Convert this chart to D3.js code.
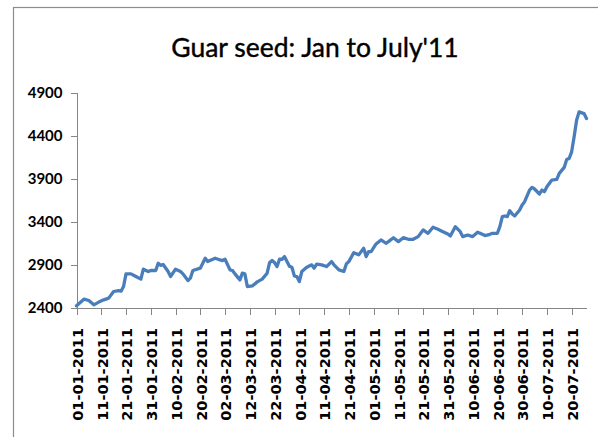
<!DOCTYPE html>
<html lang="en">
	<head>
		<meta charset="utf-8">
		<title>Guar seed: Jan to July'11</title>
		<script type="text/javascript" src="https://d3js.org/d3.v7.min.js"></script>
		<style type="text/css">
			body { margin: 0; background: #fff; }
			.axis path, .axis line { stroke: #868686; shape-rendering: crispEdges; }
		</style>
	</head>
	<body>
		<script type="text/javascript">

			//Width and height
			var w = 598;
			var h = 437;

			//Dates (dd-mm, year 2011) and prices
			var dates = [
				"01-01","04-01","06-01","08-01","10-01","12-01","14-01","16-01","18-01","19-01",
				"20-01","21-01","23-01","25-01","27-01","28-01","30-01","31-01","02-02","03-02",
				"04-02","05-02","07-02","08-02","10-02","12-02","13-02","15-02","16-02","17-02",
				"20-02","21-02","22-02","23-02","26-02","28-02","01-03","02-03","04-03","05-03",
				"06-03","08-03","09-03","10-03","11-03","13-03","15-03","17-03","19-03","20-03",
				"21-03","22-03","23-03","24-03","25-03","26-03","28-03","29-03","30-03","31-03",
				"01-04","02-04","04-04","06-04","07-04","08-04","10-04","12-04","14-04","15-04",
				"17-04","19-04","20-04","21-04","23-04","25-04","27-04","28-04","29-04","30-04",
				"02-05","04-05","06-05","07-05","09-05","11-05","13-05","15-05","17-05","19-05",
				"21-05","23-05","25-05","27-05","29-05","31-05","01-06","03-06","05-06","06-06",
				"08-06","10-06","12-06","13-06","15-06","17-06","18-06","20-06","21-06","22-06",
				"23-06","24-06","25-06","26-06","27-06","29-06","30-06","01-07","03-07","04-07",
				"05-07","07-07","08-07","09-07","10-07","12-07","14-07","15-07","17-07","18-07",
				"19-07","20-07","21-07","22-07","23-07","25-07","26-07"
			];

			var prices = [
				2420,2497,2481,2431,2463,2489,2509,2586,2597,2590,
				2644,2791,2791,2760,2730,2846,2818,2830,2830,2915,
				2890,2900,2818,2760,2846,2818,2791,2713,2741,2830,
				2857,2915,2973,2934,2973,2953,2946,2961,2838,2830,
				2791,2721,2799,2791,2644,2651,2698,2730,2799,2922,
				2946,2922,2876,2961,2961,2992,2880,2868,2768,2760,
				2702,2818,2869,2896,2857,2904,2896,2876,2934,2896,
				2838,2818,2907,2934,3038,3012,3089,2992,3050,3050,
				3139,3186,3147,3166,3212,3166,3212,3193,3193,3224,
				3302,3263,3333,3310,3282,3255,3232,3340,3282,3224,
				3243,3224,3275,3263,3236,3251,3263,3263,3340,3456,
				3464,3456,3526,3487,3464,3534,3592,3630,3766,3797,
				3778,3720,3766,3747,3804,3882,3889,3960,4029,4122,
				4134,4210,4385,4578,4675,4655,4598
			];

			var xTickLabels = [
				"01-01-2011","11-01-2011","21-01-2011","31-01-2011","10-02-2011","20-02-2011",
				"02-03-2011","12-03-2011","22-03-2011","01-04-2011","11-04-2011","21-04-2011",
				"01-05-2011","11-05-2011","21-05-2011","31-05-2011","10-06-2011","20-06-2011",
				"30-06-2011","10-07-2011","20-07-2011"
			];

			var yTicks = [2400, 2900, 3400, 3900, 4400, 4900];

			var parse = d3.utcParse("%d-%m-%Y");
			var fmt = d3.utcFormat("%d-%m-%Y");

			var dataset = dates.map(function(d, i) {
				return { date: parse(d + "-2011"), value: prices[i] };
			});

			var svg = d3.select("body")
						.append("svg")
						.attr("width", w)
						.attr("height", h);

			//Chart frame
			svg.append("rect")
			   .attr("x", 13.5)
			   .attr("y", 7.5)
			   .attr("width", 700)
			   .attr("height", 500)
			   .attr("fill", "none")
			   .attr("stroke", "#8c8c8c")
			   .attr("stroke-width", 1.2);

			var x = d3.scaleUtc()
					  .domain([parse("01-01-2011"), parse("26-07-2011")])
					  .range([76.5, 586.5]);

			var y = d3.scaleLinear()
					  .domain([2400, 4900])
					  .range([307.5, 92.5]);

			//Title
			svg.append("text")
			   .text("Guar seed: Jan to July'11")
			   .attr("x", 315)
			   .attr("y", 57)
			   .attr("text-anchor", "middle")
			   .attr("font-family", "Lato, sans-serif")
			   .attr("font-size", "26.5px")
			   .attr("fill", "#000")
			   .attr("stroke", "#000")
			   .attr("stroke-width", 0.4);

			//Y axis
			var yAxis = svg.append("g")
						   .attr("class", "axis")
						   .attr("transform", "translate(76.5,0)")
						   .call(d3.axisLeft(y)
								   .tickValues(yTicks)
								   .tickFormat(d3.format("d"))
								   .tickSize(6)
								   .tickPadding(8)
								   .tickSizeOuter(0));

			yAxis.selectAll("text")
				 .attr("font-family", "Lato, sans-serif")
				 .attr("font-weight", "bold")
				 .attr("font-size", "15px")
				 .attr("fill", "#000");

			//X axis
			var xAxis = svg.append("g")
						   .attr("class", "axis")
						   .attr("transform", "translate(0,307.5)")
						   .call(d3.axisBottom(x)
								   .tickValues(xTickLabels.map(parse))
								   .tickFormat(fmt)
								   .tickSize(7)
								   .tickSizeOuter(0));

			xAxis.selectAll("text")
				 .attr("transform", "rotate(-90)")
				 .attr("x", -20.5)
				 .attr("y", 0)
				 .attr("dy", "0.4em")
				 .attr("text-anchor", "end")
				 .attr("font-family", "'DejaVu Sans', sans-serif")
				 .attr("font-weight", "bold")
				 .attr("font-size", "14.5px")
				 .attr("fill", "#000");

			//Price line
			var line = d3.line()
						 .x(function(d) { return x(d.date); })
						 .y(function(d) { return y(d.value); });

			svg.append("path")
			   .datum(dataset)
			   .attr("d", line)
			   .attr("fill", "none")
			   .attr("stroke", "#4a7ebb")
			   .attr("stroke-width", 3.3)
			   .attr("stroke-linejoin", "round")
			   .attr("stroke-linecap", "round");

		</script>
	</body>
</html>
